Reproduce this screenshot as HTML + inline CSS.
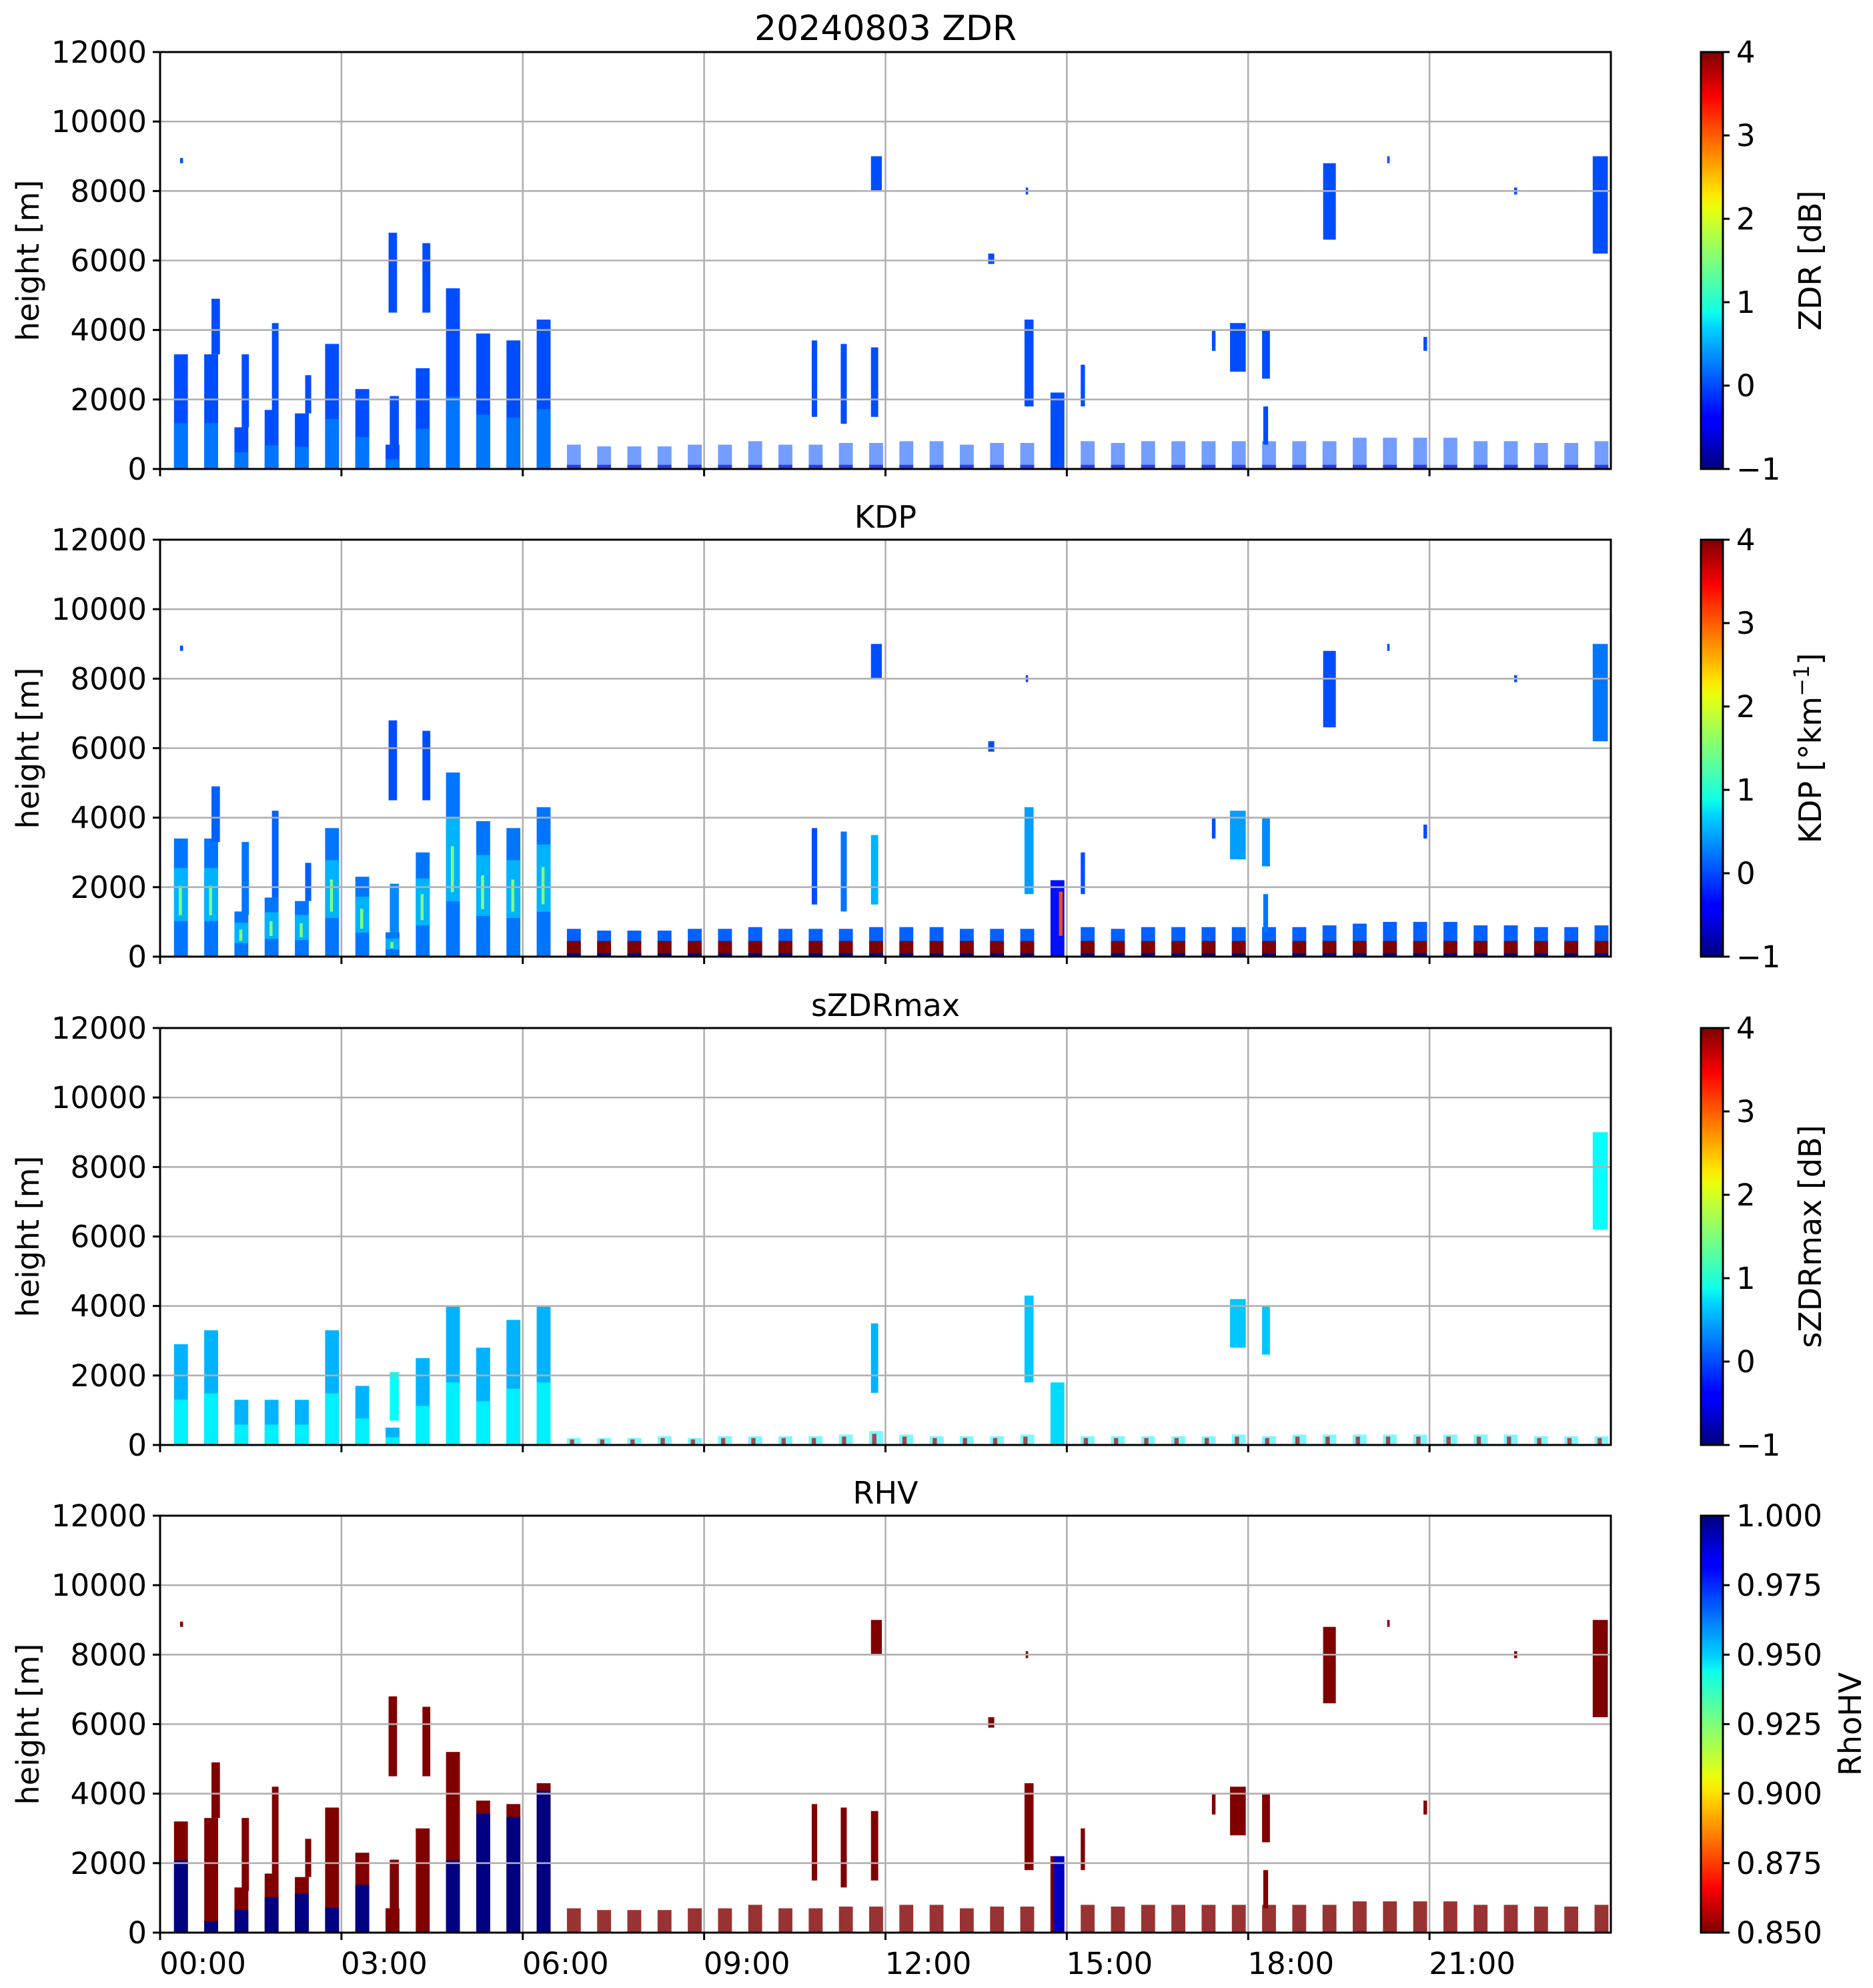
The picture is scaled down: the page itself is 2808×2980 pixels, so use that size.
<!DOCTYPE html>
<html><head><meta charset="utf-8"><title>20240803 ZDR</title>
<style>
html,body{margin:0;padding:0;background:#fff;}
svg{display:block;font-family:"DejaVu Sans","Liberation Sans",sans-serif;}
</style></head>
<body>
<svg id="fig" width="2808" height="2980" viewBox="0 0 2808 2980" xmlns="http://www.w3.org/2000/svg">
<defs>
<linearGradient id="jet" x1="0" y1="1" x2="0" y2="0">
<stop offset="0" stop-color="#00007f"/><stop offset="0.11" stop-color="#0000ff"/>
<stop offset="0.125" stop-color="#0000ff"/><stop offset="0.34" stop-color="#00d4ff"/>
<stop offset="0.375" stop-color="#0dffe9"/><stop offset="0.5" stop-color="#7dff7a"/>
<stop offset="0.625" stop-color="#e9ff0d"/><stop offset="0.66" stop-color="#ffe600"/>
<stop offset="0.875" stop-color="#ff1300"/><stop offset="0.89" stop-color="#ff0000"/>
<stop offset="1" stop-color="#7f0000"/>
</linearGradient>
<linearGradient id="jetr" x1="0" y1="0" x2="0" y2="1">
<stop offset="0" stop-color="#00007f"/><stop offset="0.11" stop-color="#0000ff"/>
<stop offset="0.125" stop-color="#0000ff"/><stop offset="0.34" stop-color="#00d4ff"/>
<stop offset="0.375" stop-color="#0dffe9"/><stop offset="0.5" stop-color="#7dff7a"/>
<stop offset="0.625" stop-color="#e9ff0d"/><stop offset="0.66" stop-color="#ffe600"/>
<stop offset="0.875" stop-color="#ff1300"/><stop offset="0.89" stop-color="#ff0000"/>
<stop offset="1" stop-color="#7f0000"/>
</linearGradient>
</defs>
</svg>
<script>
// ---------------- data ----------------
const morningStart = [0.23,0.73,1.23,1.73,2.23,2.73,3.23,3.73,4.23,4.73,5.23,5.73,6.23];
const morningTopsZDR = [3300,3300,1200,1700,1600,3600,2300,700,2900,5200,3900,3700,4300];
const morningTopsKDP = [3400,3400,1300,1700,1600,3700,2300,700,3000,5300,3900,3700,4300];
const morningTopsSZ = [2900,3300,1300,1300,1300,3300,1700,500,2500,4000,2800,3600,4000];
const morningTopsRHV = [3200,3300,1300,1700,1600,3600,2300,700,3000,5200,3800,3700,4300];
const morningBlueFracRHV = [0.65,0.1,0.5,0.6,0.7,0.2,0.6,0.0,0.0,0.4,0.9,0.9,0.95];
const lowStart = [6.73,7.23,7.73,8.23,8.73,9.23,9.73,10.23,10.73,11.23,11.73,12.23,12.73,13.23,13.73,14.23,14.73,15.23,15.73,16.23,16.73,17.23,17.73,18.23,18.73,19.23,19.73,20.23,20.73,21.23,21.73,22.23,22.73,23.23,23.73];
const lowTops = [700,650,650,650,700,700,800,700,700,750,750,800,800,700,750,750,2200,800,750,800,800,800,800,800,800,800,900,900,900,900,800,800,750,750,800];
const lowTopsKDP = [800,750,750,750,800,800,850,800,800,800,850,850,850,800,800,800,2200,850,800,850,850,850,850,850,850,900,950,1000,1000,1000,900,900,850,850,900];
const lowTopsSZ = [200,200,200,250,200,250,250,250,250,300,400,300,250,250,250,300,1800,250,250,250,250,250,300,250,300,300,300,300,300,300,300,300,250,250,250];
const featT0 = [0.33,0.85,1.35,1.85,2.40,3.78,4.34,3.80,10.78,11.26,11.76,11.76,13.70,14.30,14.32,15.23,17.40,17.70,18.23,18.25,19.24,20.30,20.90,22.40,23.70];
const featT1 = [0.38,0.99,1.47,1.96,2.50,3.92,4.47,3.95,10.87,11.36,11.94,11.88,13.80,14.45,14.36,15.30,17.46,17.96,18.36,18.33,19.45,20.34,20.96,22.45,23.95];
const featBase = [8800,3300,1200,1700,1600,4500,4500,700,1500,1300,8000,1500,5900,1800,7900,1800,3400,2800,2600,700,6600,8800,3400,7900,6200];
const featTop = [8950,4900,3300,4200,2700,6800,6500,2100,3700,3600,9000,3500,6200,4300,8100,3000,4000,4200,4000,1800,8800,9000,3800,8100,9000];
const featValZDR = [0,0,0,0,0,0,0,0,0,0,0,0,0,0,0,0,0,0,0,0,0,0,0,0,0];
const featValKDP = [0,0.1,0.2,0.1,0.1,0,0,0.3,0,0.2,0,0.5,0,0.4,0,0,0,0.4,0.3,0.2,0,0,0,0,0.2];
const featValSZ = [null,null,null,null,null,null,null,0.9,null,null,null,0.5,null,0.6,null,null,null,0.6,0.6,null,null,null,null,null,0.9];
const featValRHV = [0.85,0.85,0.85,0.85,0.85,0.85,0.85,0.85,0.85,0.85,0.85,0.85,0.85,0.85,0.85,0.85,0.85,0.85,0.85,0.85,0.85,0.85,0.85,0.85,0.85];
const panelTitles = ["20240803 ZDR","KDP","sZDRmax","RHV"];
const yTicks = [0,2000,4000,6000,8000,10000,12000];
const xTickHours = [0,3,6,9,12,15,18,21];
const xTickLabels = ["00:00","03:00","06:00","09:00","12:00","15:00","18:00","21:00"];
const cbTicksA = [-1,0,1,2,3,4];
const cbTicksRHV = [0.85,0.875,0.9,0.925,0.95,0.975,1.0];

// ---------------- geometry ----------------
const L=240,R=2415,H=625,TOPS=[78,809,1541,2272];
const svg=document.getElementById('fig');
const NS='http://www.w3.org/2000/svg';
function mk(tag,attrs,parent){const e=document.createElementNS(NS,tag);for(const k in attrs)e.setAttribute(k,attrs[k]);(parent||svg).appendChild(e);return e;}
function xS(h){return L+h*(R-L)/24;}
function yS(top,v){return top+H*(1-v/12000);}
function jet(t){t=Math.max(0,Math.min(1,t));
 const r=Math.max(0,Math.min(1,Math.min(4*t-1.5,-4*t+4.5)));
 const g=Math.max(0,Math.min(1,Math.min(4*t-0.5,-4*t+3.5)));
 const b=Math.max(0,Math.min(1,Math.min(4*t+0.5,-4*t+2.5)));
 return 'rgb('+Math.round(r*255)+','+Math.round(g*255)+','+Math.round(b*255)+')';}
function colA(v){return jet((v+1)/5);}
function colR(v){return jet(1-(v-0.85)/0.15);}
const CELLW=0.23;

function cell(g,top,t0,t1,b,tp,color,name,op){
  const r=mk('rect',{x:xS(t0),y:yS(top,tp),width:xS(t1)-xS(t0),height:yS(top,b)-yS(top,tp),fill:color},g);
  if(op!==undefined) r.setAttribute('fill-opacity',op);
  
  
}

for(let p=0;p<4;p++){
  const top=TOPS[p];
  const g=mk('g',{});
  
  
  const data=mk('g',{},g);
  
  
  for(let i=0;i<morningStart.length;i++){
    const t0=morningStart[i],t1=t0+CELLW;
    if(p===0){cell(data,top,t0,t1,0,morningTopsZDR[i],colA(0),'zdr-column');
      cell(data,top,t0,t1,0,morningTopsZDR[i]*0.4,colA(0.2),'zdr-column-lower');}
    if(p===1){cell(data,top,t0,t1,0,morningTopsKDP[i],colA(0.2),'kdp-column');
      cell(data,top,t0,t1,morningTopsKDP[i]*0.3,morningTopsKDP[i]*0.75,colA(0.5),'kdp-column-mid');
      cell(data,top,t0+0.08,t1-0.1,morningTopsKDP[i]*0.35,morningTopsKDP[i]*0.6,colA(1.5),'kdp-column-core');}
    if(p===2){cell(data,top,t0,t1,0,morningTopsSZ[i],colA(0.5),'szdr-column');
      cell(data,top,t0,t1,0,morningTopsSZ[i]*0.45,colA(0.8),'szdr-column-lower');}
    if(p===3){const tp=morningTopsRHV[i];
      cell(data,top,t0,t1,0,tp,colR(0.85),'rhv-column');
      cell(data,top,t0,t1,0,tp*morningBlueFracRHV[i],colR(1.0),'rhv-column-core');}
  }
  for(let i=0;i<lowStart.length;i++){
    const t0=lowStart[i],t1=t0+CELLW;
    const big=(lowTops[i]>1500);
    if(p===0){
      if(big){cell(data,top,t0,t1,0,lowTops[i],colA(0),'zdr-cell');}
      else{cell(data,top,t0,t1,0,lowTops[i],colA(0),'zdr-cell',0.55);
      cell(data,top,t0,t1,0,120,colA(-0.6),'zdr-cell-base',0.6);}}
    if(p===1){const tp=lowTopsKDP[i];
      if(big){cell(data,top,t0,t1,0,tp,colA(-0.3),'kdp-cell');cell(data,top,t0+0.14,t1-0.03,600,tp*0.85,colA(3.0),'kdp-cell-core');}
      else{cell(data,top,t0,t1,0,tp,colA(0.1),'kdp-cell');
        cell(data,top,t0,t1,100,450,colA(4),'kdp-cell-red');
        cell(data,top,t0,t1,0,100,colA(-1),'kdp-cell-base');}}
    if(p===2){const tp=lowTopsSZ[i];
      if(big)cell(data,top,t0,t1,0,tp,colA(0.7),'szdr-cell');
      else{cell(data,top,t0,t1,0,tp,colA(0.8),'szdr-cell',0.5);cell(data,top,t0+0.05,t0+0.12,0,tp*0.8,colA(3.8),'szdr-cell-red',0.7);}}
    if(p===3){const tp=lowTops[i];
      if(big){cell(data,top,t0,t1,0,tp,colR(0.99),'rhv-cell');cell(data,top,t0,t0+0.05,0,tp,colR(0.85),'rhv-cell-edge');}
      else cell(data,top,t0,t1,0,tp,colR(0.85),'rhv-cell',0.8);}
  }
  const vals=[featValZDR,featValKDP,featValSZ,featValRHV][p];
  for(let i=0;i<featT0.length;i++){
    const v=vals[i]; if(v===null)continue;
    cell(data,top,featT0[i],featT1[i],featBase[i],featTop[i],p===3?colR(v):colA(v),'echo-feature');
  }
  const grid=mk('g',{stroke:'#b0b0b0','stroke-width':2.6},g);
  
  
  for(const v of yTicks){if(v===0||v===12000)continue;const y=yS(top,v);mk('line',{x1:L,x2:R,y1:y,y2:y},grid);}
  for(const h of xTickHours){if(h===0)continue;const x=xS(h);mk('line',{x1:x,x2:x,y1:top,y2:top+H},grid);}
  const sp=mk('rect',{x:L,y:top,width:R-L,height:H,fill:'none',stroke:'#000','stroke-width':3},g);
  
  
  for(const v of yTicks){const y=yS(top,v);
    mk('line',{x1:L-11,x2:L,y1:y,y2:y,stroke:'#000','stroke-width':3},g);
    const t=mk('text',{x:L-20,y:y+16,'text-anchor':'end','font-size':45},g);t.textContent=String(v);
    
    }
  for(let i=0;i<xTickHours.length;i++){const x=xS(xTickHours[i]);
    mk('line',{x1:x,x2:x,y1:top+H,y2:top+H+11,stroke:'#000','stroke-width':3},g);
    if(p===3){const t=mk('text',{x:x+64,y:top+H+62,'text-anchor':'middle','font-size':45},g);t.textContent=xTickLabels[i];
      
      }}
  const yl=mk('text',{x:0,y:0,'text-anchor':'middle','font-size':46,transform:'translate(58,'+(top+H/2)+') rotate(-90)'},g);
  yl.textContent='height [m]';
  
  
  const ti=mk('text',{x:(L+R)/2,y:top-18,'text-anchor':'middle','font-size':p===0?52:46},g);
  ti.textContent=panelTitles[p];
  
  
  const cb=mk('g',{},g);
  
  
  mk('rect',{x:2550,y:top,width:33,height:H,fill:p===3?'url(#jetr)':'url(#jet)',stroke:'#000','stroke-width':3},cb);
  const ticks=p===3?cbTicksRHV:cbTicksA;
  const lo=ticks[0],hi=ticks[ticks.length-1];
  for(const v of ticks){const y=top+H*(1-(v-lo)/(hi-lo));
    mk('line',{x1:2583,x2:2593,y1:y,y2:y,stroke:'#000','stroke-width':3},cb);
    const t=mk('text',{x:2603,y:y+16,'font-size':45},cb);
    t.textContent=p===3?v.toFixed(3):(v<0?'\u2212'+Math.abs(v):String(v));
    
    }
  const cx=p===3?2790:2730;
  const cl=mk('text',{x:0,y:0,'text-anchor':'middle','font-size':46,transform:'translate('+cx+','+(top+H/2)+') rotate(-90)'},cb);
  
  
  if(p===1){cl.textContent='KDP [°km';const s=mk('tspan',{dy:-18,'font-size':32},cl);s.textContent='\u22121';const s2=mk('tspan',{dy:18},cl);s2.textContent=']';}
  else cl.textContent=['ZDR [dB]','','sZDRmax [dB]','RhoHV'][p];
}
</script>
</body></html>
